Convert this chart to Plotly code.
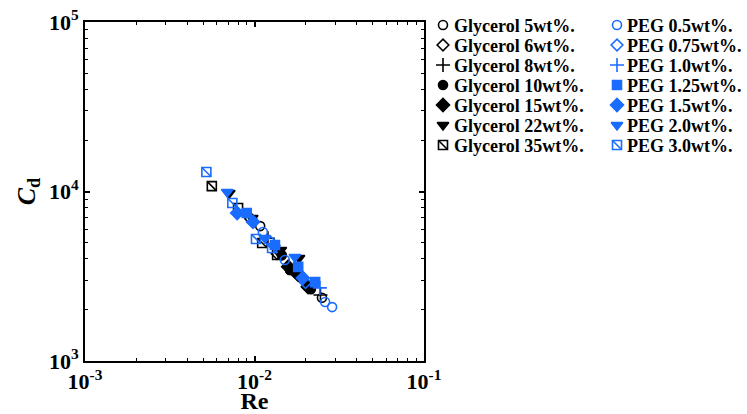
import plotly.graph_objects as go

# ---------------- data ----------------
gly5_re = [0.0108, 0.0162, 0.0250]
gly5_cd = [6250, 3440, 2360]
gly6_re = [0.0095, 0.0136, 0.0205]
gly6_cd = [6900, 4300, 2750]
gly8_re = [0.0120, 0.0180, 0.0245]
gly8_cd = [5300, 3300, 2450]
gly10_re = [0.0145, 0.0162, 0.0215]
gly10_cd = [4200, 3440, 2650]
gly15_re = [0.0158, 0.0181, 0.0207]
gly15_cd = [3600, 3220, 2730]
gly22_re = [0.0071, 0.0097, 0.0143, 0.0183]
gly22_cd = [9800, 6980, 4520, 4050]
gly35_re = [0.0056, 0.0080, 0.0111, 0.0136]
gly35_cd = [10760, 7990, 4970, 4220]

peg05_re = [0.0112, 0.0151, 0.0261, 0.0287]
peg05_cd = [5770, 3940, 2230, 2080]
peg075_re = [0.0125, 0.0200]
peg075_cd = [5000, 2900]
peg10_re = [0.0130, 0.0243]
peg10_cd = [4800, 2700]
peg125_re = [0.0090, 0.0132, 0.0181, 0.0228]
peg125_cd = [7460, 4830, 3590, 2920]
peg15_re = [0.0079, 0.0098, 0.0193]
peg15_cd = [7460, 6610, 3090]
peg20_re = [0.0069, 0.0115, 0.0173]
peg20_cd = [9930, 5320, 4110]
peg30_re = [0.0052, 0.0074, 0.0102, 0.0127]
peg30_cd = [13030, 8550, 5250, 4640]

gly_labels = ["Glycerol 5wt%.", "Glycerol 6wt%.", "Glycerol 8wt%.", "Glycerol 10wt%.",
              "Glycerol 15wt%.", "Glycerol 22wt%.", "Glycerol 35wt%."]
peg_labels = ["PEG 0.5wt%.", "PEG 0.75wt%.", "PEG 1.0wt%.", "PEG 1.25wt%.",
              "PEG 1.5wt%.", "PEG 2.0wt%.", "PEG 3.0wt%."]

x_tickvals = [1e-3, 1e-2, 1e-1]
x_ticktext = ["10<sup>-3</sup>", "10<sup>-2</sup>", "10<sup>-1</sup>"]
y_tickvals = [1e3, 1e4, 1e5]
y_ticktext = ["10<sup>3</sup>", "10<sup>4</sup>", "10<sup>5</sup>"]

# ---------------- style ----------------
BLACK = "#000000"
BLUE = "#1a6cff"
FONT = "Liberation Serif"
gly_symbols = ["circle-open", "diamond-open", "cross-thin-open", "circle",
               "diamond", "triangle-down", "square-open"]
peg_symbols = ["circle-open", "diamond-open", "cross-thin-open", "square",
               "diamond", "triangle-down", "square-open"]
sizes = [9, 9, 10, 9, 10, 10, 9]

gly = [(gly5_re, gly5_cd), (gly6_re, gly6_cd), (gly8_re, gly8_cd), (gly10_re, gly10_cd),
       (gly15_re, gly15_cd), (gly22_re, gly22_cd), (gly35_re, gly35_cd)]
peg = [(peg05_re, peg05_cd), (peg075_re, peg075_cd), (peg10_re, peg10_cd),
       (peg125_re, peg125_cd), (peg15_re, peg15_cd), (peg20_re, peg20_cd),
       (peg30_re, peg30_cd)]

fig = go.Figure()


def add_series(xs, ys, sym, size, color, xa="x", ya="y"):
    fig.add_trace(go.Scatter(
        x=xs, y=ys, mode="markers", xaxis=xa, yaxis=ya, showlegend=False,
        cliponaxis=False,
        marker=dict(symbol=sym, size=size, color=color,
                    line=dict(color=color, width=1.6))))
    if sym == "square-open":
        fig.add_trace(go.Scatter(
            x=xs, y=ys, mode="markers", xaxis=xa, yaxis=ya, showlegend=False,
            cliponaxis=False,
            marker=dict(symbol="line-nw", size=size, color=color,
                        line=dict(color=color, width=1.6))))


for (xs, ys), sym, sz in zip(gly, gly_symbols, sizes):
    add_series(xs, ys, sym, sz, BLACK)
for (xs, ys), sym, sz in zip(peg, peg_symbols, sizes):
    add_series(xs, ys, sym, sz, BLUE)

# ---------------- custom legend (on a helper axis in pixel units) ----------------
row_y = [3, 23, 43, 63, 83, 103, 123]
col_marker_x = [19, 193]
col_text_x = [28, 201]
for ci, (labels, color, syms) in enumerate([(gly_labels, BLACK, gly_symbols),
                                           (peg_labels, BLUE, peg_symbols)]):
    for ri, (lab, sym, sz) in enumerate(zip(labels, syms, sizes)):
        add_series([col_marker_x[ci]], [row_y[ri]], sym, sz, color, "x2", "y2")
        fig.add_annotation(x=col_text_x[ci], y=row_y[ri] + 1, xref="x2", yref="y2",
                           text=lab, showarrow=False, xanchor="left", yanchor="middle",
                           font=dict(family=FONT, size=18, color=BLACK, weight="bold"))

W, H = 747, 414
L, R, T, B = 85, 4, 22, 53
pw = W - L - R
main_frac = 339 / pw

axis_common = dict(type="log", showline=True, linecolor=BLACK, linewidth=2,
                   mirror="allticks", ticks="inside", ticklen=5, tickwidth=1.5,
                   tickcolor=BLACK, showgrid=False, zeroline=False, automargin=False,
                   tickfont=dict(family=FONT, size=22, color=BLACK, weight="bold"),
                   minor=dict(ticks="inside", ticklen=3, tickwidth=1.2,
                              tickcolor=BLACK, dtick="D1", showgrid=False))

fig.update_layout(
    width=W, height=H,
    margin=dict(l=L, r=R, t=T, b=B, pad=0, autoexpand=False),
    plot_bgcolor="white", paper_bgcolor="white",
    showlegend=False,
    xaxis=dict(axis_common, domain=[0, main_frac], anchor="y",
               range=[-3, -1], tickmode="array", tickvals=x_tickvals,
               ticktext=x_ticktext,
               title=dict(text="Re", standoff=5,
                          font=dict(family=FONT, size=24, color=BLACK, weight="bold"))),
    yaxis=dict(axis_common, domain=[0, 1], anchor="x",
               range=[3, 5], tickmode="array", tickvals=y_tickvals,
               ticktext=y_ticktext,
               title=dict(text="<i>C</i><sub>d</sub>", standoff=6,
                          font=dict(family=FONT, size=26, color=BLACK, weight="bold"))),
    xaxis2=dict(domain=[main_frac, 1], anchor="y2", range=[0, W - L - R - 339],
                visible=False, fixedrange=True, automargin=False),
    yaxis2=dict(domain=[0, 1], anchor="x2", range=[339, 0], visible=False,
                fixedrange=True, automargin=False),
)

fig.write_html("out.html")
